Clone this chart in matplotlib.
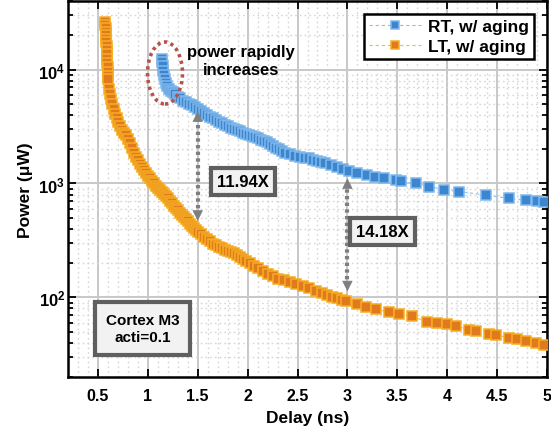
import matplotlib
matplotlib.use("Agg")
import matplotlib.pyplot as plt
from matplotlib.ticker import FixedLocator, FuncFormatter, LogLocator, MultipleLocator, NullFormatter
from matplotlib.patches import Ellipse

plt.rcParams['font.family'] = ['Liberation Sans', 'DejaVu Sans']
plt.rcParams['font.weight'] = 'bold'
plt.rcParams['mathtext.fontset'] = 'custom'
plt.rcParams['mathtext.rm'] = 'Liberation Sans:bold'
plt.rcParams['mathtext.bf'] = 'Liberation Sans:bold'
plt.rcParams['mathtext.it'] = 'Liberation Sans:bold'
plt.rcParams['mathtext.default'] = 'bf'

# ---------------- data ----------------
rt_delay = [1.14, 1.14, 1.15, 1.15, 1.16, 1.17, 1.18, 1.19, 1.21, 1.23, 1.25, 1.27, 1.30, 1.32,
            1.35, 1.38, 1.41, 1.44, 1.47, 1.50, 1.53, 1.56, 1.59, 1.62, 1.65, 1.68, 1.71, 1.74,
            1.77, 1.80, 1.83, 1.86, 1.89, 1.92, 1.95, 1.98, 2.01, 2.04, 2.07, 2.10, 2.13, 2.16,
            2.19, 2.22, 2.25, 2.28, 2.31, 2.34, 2.37, 2.42, 2.47, 2.52, 2.57, 2.62, 2.66, 2.70,
            2.74, 2.78, 2.84, 2.90, 2.96, 3.02, 3.10, 3.20, 3.28, 3.37, 3.49, 3.54, 3.69, 3.82,
            3.97, 4.12, 4.39, 4.62, 4.79, 4.90, 4.97]
rt_power = [12500, 11600, 10700, 9800, 9000, 8200, 7600, 7200, 6800, 6550, 6350, 6100, 5800, 5600,
            5350, 5150, 5000, 4850, 4650, 4500, 4330, 4180, 4020, 3870, 3750, 3620, 3500, 3390,
            3280, 3180, 3090, 3010, 2930, 2860, 2790, 2720, 2660, 2600, 2540, 2490, 2430, 2360,
            2290, 2220, 2140, 2060, 1990, 1920, 1860, 1800, 1760, 1720, 1690, 1660, 1620, 1580,
            1540, 1500, 1450, 1400, 1350, 1300, 1240, 1180, 1140, 1110, 1070, 1050, 1000, 940,
            880, 850, 790, 740, 710, 700, 690]

lt_delay = [0.575, 0.575, 0.578, 0.580, 0.580, 0.582, 0.585, 0.587, 0.590, 0.590, 0.593, 0.595,
            0.597, 0.600, 0.600, 0.603,
            0.615, 0.625, 0.635, 0.645, 0.66, 0.675, 0.69, 0.705, 0.72, 0.74, 0.76, 0.78, 0.80,
            0.82, 0.84, 0.86, 0.88, 0.90, 0.92, 0.94, 0.96, 0.98, 1.00, 1.02, 1.04, 1.06, 1.08,
            1.10, 1.12, 1.14, 1.16, 1.18, 1.20, 1.22, 1.24, 1.26, 1.28, 1.30, 1.32, 1.34, 1.36,
            1.38, 1.40, 1.42, 1.44, 1.46, 1.48, 1.50, 1.53, 1.56, 1.59, 1.62, 1.65, 1.68, 1.71,
            1.74, 1.77, 1.80, 1.83, 1.86, 1.89, 1.92, 1.95, 1.98, 2.02, 2.06, 2.10, 2.15, 2.20,
            2.25, 2.30, 2.36, 2.42, 2.48, 2.55, 2.62, 2.69, 2.75, 2.80, 2.85, 2.90, 2.95, 2.99,
            3.10, 3.19, 3.29, 3.42, 3.52, 3.65, 3.80, 3.90, 4.00, 4.09, 4.22, 4.29, 4.42, 4.49,
            4.62, 4.70, 4.79, 4.89, 4.97]
lt_power = [26000, 24500, 23000, 21500, 20000, 18700, 17400, 16000, 14800, 13600, 12500, 11500,
            10500, 9600, 8800, 8300,
            6700, 6100, 5500, 5000, 4500, 4100, 3750, 3450, 3200, 2950, 2780, 2650, 2450,
            2250, 2050, 1870, 1720, 1600, 1490, 1400, 1320, 1240, 1170, 1110, 1060, 1010, 960,
            920, 880, 845, 810, 775, 740, 705, 670, 640, 610, 580, 555, 530, 505,
            485, 465, 445, 425, 408, 392, 378, 360, 342, 325, 310, 297, 287, 278,
            270, 263, 257, 250, 243, 234, 225, 217, 210, 200, 190, 180, 172, 162,
            153, 146, 141, 136, 132, 127, 120, 114, 109, 105, 101, 98, 95, 93,
            88, 83, 79, 74, 72, 68, 61, 59, 58, 56, 52, 51, 48, 47,
            44, 43, 41.5, 39.5, 38]

x_ticks = [0.5, 1, 1.5, 2, 2.5, 3, 3.5, 4, 4.5, 5]
y_ticks = [1e2, 1e3, 1e4]
series_labels = ['RT, w/ aging', 'LT, w/ aging']
ratio_labels = ['11.94X', '14.18X']
ratio_delays = [1.5, 3.0]

# ---------------- figure ----------------
fig = plt.figure(figsize=(5.51, 4.35), dpi=100)
ax = fig.add_axes([68 / 551, 1 - 378 / 435, 479 / 551, 376 / 435])

ax.set_yscale('log')
ax.set_xlim(0.2, 5.0)
ax.set_ylim(20, 40000)

# grid
ax.set_axisbelow(True)
ax.xaxis.set_major_locator(FixedLocator(x_ticks))
ax.xaxis.set_minor_locator(MultipleLocator(0.1))
ax.yaxis.set_major_locator(FixedLocator(y_ticks))
ax.yaxis.set_minor_locator(LogLocator(base=10, subs=range(2, 10)))
ax.yaxis.set_minor_formatter(NullFormatter())
ax.xaxis.set_major_formatter(FuncFormatter(lambda v, p: '%g' % v))
ax.grid(True, which='major', color='#c8c8c8', lw=1.4, ls='-')
ax.grid(True, which='minor', color='#d6d6d6', lw=1.0, ls=(0, (1.2, 2.2)))

rt_line, = ax.plot(rt_delay, rt_power, ls=(0, (3, 2.5)), lw=0.8, color='#8ec0ee',
                   marker='s', ms=6.5, mfc='#3b86cf', mec='#80b8ec', mew=1.1, zorder=4)
lt_line, = ax.plot(lt_delay, lt_power, ls=(0, (3, 2.5)), lw=0.8, color='#f5b942',
                   marker='s', ms=6.5, mfc='#e07a1c', mec='#f7ad22', mew=1.1, zorder=3)

# ticks
ax.tick_params(which='both', direction='in', top=True, right=True, width=1.3, colors='black')
ax.tick_params(which='major', length=6)
ax.tick_params(axis='y', which='minor', length=3.5)
ax.tick_params(axis='x', which='minor', length=0)
ax.tick_params(axis='x', which='major', labelsize=11.5, pad=8)
ax.tick_params(axis='y', which='major', labelsize=12, pad=2)
for s in ax.spines.values():
    s.set_linewidth(1.8)

ax.set_xlabel('Delay (ns)', fontsize=12.5, fontweight='bold', labelpad=5)
ax.set_ylabel('Power (μW)', fontsize=12.5, fontweight='bold', labelpad=4)

leg = ax.legend([rt_line, lt_line], series_labels, loc='upper right', fontsize=12.5,
                frameon=True, fancybox=False, edgecolor='black', framealpha=1,
                handlelength=3.0, handletextpad=0.4, borderpad=0.3, labelspacing=0.25,
                borderaxespad=0.75, markerscale=0.9)
leg.get_frame().set_linewidth(1.8)
for t in leg.get_texts():
    t.set_fontweight('bold')

# double arrows between the series (dotted shaft + solid heads)
arrow_tops = [4300, 1110]
arrow_bottoms = [470, 113]
gray = '#7f7f7f'
for xd, yt, yb in zip(ratio_delays, arrow_tops, arrow_bottoms):
    ax.plot([xd, xd], [yb * 1.12, yt / 1.12], color=gray, lw=3.0, ls=(0, (0.8, 0.8)),
            solid_capstyle='butt', dash_capstyle='butt', zorder=5)
    ax.annotate('', xy=(xd, yt), xytext=(xd, yt / 1.2),
                arrowprops=dict(arrowstyle='-|>', color=gray, lw=0.5, mutation_scale=17,
                                shrinkA=0, shrinkB=0), zorder=5)
    ax.annotate('', xy=(xd, yb), xytext=(xd, yb * 1.2),
                arrowprops=dict(arrowstyle='-|>', color=gray, lw=0.5, mutation_scale=17,
                                shrinkA=0, shrinkB=0), zorder=5)

box = dict(boxstyle='square,pad=0.38', facecolor='#f2f2f2', edgecolor='#5f5f5f', lw=3)
ax.text(1.955, 1040, ratio_labels[0], fontsize=12, fontweight='bold', ha='center', va='center',
        bbox=box, zorder=6)
ax.text(3.35, 378, ratio_labels[1], fontsize=12, fontweight='bold', ha='center', va='center',
        bbox=box, zorder=6)

box2 = dict(boxstyle='square,pad=0.7', facecolor='#f2f2f2', edgecolor='#5f5f5f', lw=3)
ax.text(0.95, 53, 'Cortex M3\nacti=0.1', fontsize=11, fontweight='bold', ha='center',
        va='center', linespacing=1.3, bbox=box2, zorder=6)

ax.text(1.93, 12000, 'power rapidly\nincreases', fontsize=12, fontweight='bold',
        ha='center', va='center', linespacing=1.2, zorder=6)

ell = Ellipse((0.2025, 0.8085), 0.073, 0.165, transform=ax.transAxes, fill=False,
              edgecolor='#b5524e', lw=2.6, ls=(0, (0.9, 1.0)), zorder=6)
ax.add_patch(ell)

fig.savefig('out.png', dpi=100)
